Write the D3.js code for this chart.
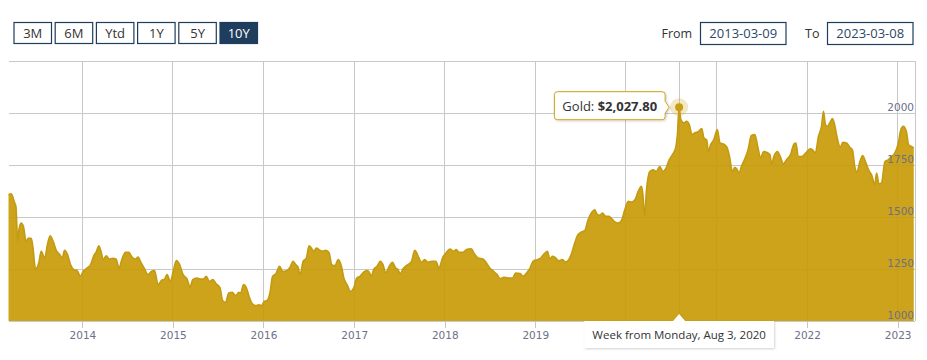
<!DOCTYPE html>
<html>
<head>
<meta charset="utf-8">
<script src="https://cdn.jsdelivr.net/npm/d3@7"></script>
<style>
body { margin: 0; background: #fff; }
svg { display: block; font-family: "Open Sans", sans-serif; }
.axis text { font-family: "DejaVu Sans", sans-serif; font-size: 10.5px; fill: #6c7088; }
.axis .domain { display: none; }
</style>
</head>
<body>
<svg id="chart" width="927" height="360"></svg>
<script>
// weekly gold price
var dates = [
"2013-03-09","2013-03-20","2013-04-03","2013-04-08","2013-04-15","2013-04-20","2013-04-29","2013-05-08","2013-05-19","2013-05-29","2013-06-09","2013-06-15","2013-06-26","2013-07-09","2013-07-19","2013-08-02","2013-08-13","2013-08-24","2013-09-05","2013-09-18","2013-10-02","2013-10-12","2013-10-21","2013-11-02","2013-11-14","2013-11-27","2013-12-10","2013-12-24",
"2014-01-04","2014-01-20","2014-02-03","2014-02-16","2014-02-27","2014-03-08","2014-03-17","2014-03-26","2014-04-07","2014-04-20","2014-05-03","2014-05-17","2014-05-28","2014-06-11","2014-06-24","2014-07-07","2014-07-20","2014-08-04","2014-08-13","2014-08-26","2014-09-09","2014-09-22","2014-10-06","2014-10-19","2014-11-02","2014-11-16","2014-11-29","2014-12-08","2014-12-22",
"2015-01-02","2015-01-15","2015-01-28","2015-02-11","2015-02-27","2015-03-11","2015-03-22","2015-04-07","2015-04-21","2015-05-04","2015-05-15","2015-05-28","2015-06-11","2015-06-24","2015-07-10","2015-07-20","2015-08-01","2015-08-14","2015-08-28","2015-09-11","2015-09-24","2015-10-01","2015-10-13","2015-10-23","2015-11-04","2015-11-17","2015-12-01","2015-12-14","2015-12-25",
"2016-01-04","2016-01-16","2016-01-27","2016-02-07","2016-02-20","2016-03-06","2016-03-19","2016-04-05","2016-04-18","2016-04-29","2016-05-10","2016-05-19","2016-05-28","2016-06-09","2016-06-22","2016-07-03","2016-07-12","2016-07-21","2016-08-02","2016-08-12","2016-08-26","2016-09-09","2016-09-22","2016-10-02","2016-10-15","2016-10-28","2016-11-11","2016-11-20","2016-12-03","2016-12-17",
"2017-01-01","2017-01-11","2017-01-24","2017-02-07","2017-02-20","2017-03-01","2017-03-11","2017-03-20","2017-04-03","2017-04-16","2017-04-27","2017-05-08","2017-05-21","2017-06-04","2017-06-17","2017-06-26","2017-07-06","2017-07-16","2017-07-30","2017-08-20","2017-09-02","2017-09-16","2017-09-29","2017-10-12","2017-10-26","2017-11-09","2017-11-26","2017-12-09","2017-12-23",
"2018-01-06","2018-01-22","2018-02-05","2018-02-16","2018-02-28","2018-03-15","2018-03-29","2018-04-09","2018-04-18","2018-05-01","2018-05-15","2018-06-04","2018-06-18","2018-07-01","2018-07-14","2018-07-31","2018-08-13","2018-08-27","2018-09-14","2018-10-01","2018-10-14","2018-11-01","2018-11-13","2018-11-27","2018-12-10","2018-12-23",
"2019-01-09","2019-01-23","2019-02-03","2019-02-19","2019-02-28","2019-03-12","2019-03-24","2019-04-06","2019-04-20","2019-05-03","2019-05-16","2019-05-26","2019-06-09","2019-06-22","2019-07-06","2019-07-19","2019-08-02","2019-08-15","2019-08-29","2019-09-07","2019-09-18","2019-09-29","2019-10-12","2019-10-25","2019-11-05","2019-11-18","2019-12-01","2019-12-14","2019-12-28",
"2020-01-11","2020-01-24","2020-02-07","2020-02-20","2020-03-04","2020-03-10","2020-03-17","2020-03-24","2020-04-07","2020-04-20","2020-05-03","2020-05-17","2020-05-30","2020-06-10","2020-06-24","2020-07-07","2020-07-20","2020-07-27","2020-08-03","2020-08-10","2020-08-22","2020-09-02","2020-09-13","2020-09-24","2020-10-06","2020-10-19","2020-11-02","2020-11-11","2020-11-22","2020-11-29","2020-12-08","2020-12-21",
"2021-01-04","2021-01-15","2021-01-28","2021-02-12","2021-02-22","2021-03-06","2021-03-15","2021-03-24","2021-04-02","2021-04-11","2021-04-25","2021-05-08","2021-05-21","2021-06-04","2021-06-17","2021-06-27","2021-07-10","2021-07-23","2021-08-04","2021-08-11","2021-08-20","2021-09-03","2021-09-16","2021-09-27","2021-10-10","2021-10-26","2021-11-09","2021-11-17","2021-11-26","2021-12-10","2021-12-27",
"2022-01-13","2022-01-24","2022-02-03","2022-02-16","2022-02-28","2022-03-08","2022-03-16","2022-03-25","2022-04-02","2022-04-13","2022-04-22","2022-05-01","2022-05-15","2022-05-25","2022-06-09","2022-06-22","2022-07-03","2022-07-12","2022-07-21","2022-08-02","2022-08-13","2022-08-26","2022-09-09","2022-09-18","2022-10-01","2022-10-08","2022-10-18","2022-10-28","2022-11-11","2022-11-24","2022-12-08","2022-12-21",
"2023-01-04","2023-01-14","2023-01-24","2023-02-05","2023-02-14","2023-02-24","2023-03-07"
];
var prices = [
1607,1612,1567,1550,1383,1439,1471,1455,1383,1399,1397,1359,1250,1279,1335,1303,1367,1410,1383,1338,1319,1303,1340,1319,1271,1247,1243,1215,
1238,1255,1271,1314,1335,1362,1335,1295,1314,1298,1301,1298,1255,1303,1330,1330,1308,1298,1308,1279,1250,1223,1238,1243,1175,1195,1202,1223,1190,
1238,1291,1271,1223,1202,1163,1199,1207,1202,1202,1215,1190,1199,1179,1159,1099,1089,1135,1138,1122,1138,1135,1175,1163,1118,1083,1074,1078,1074,
1094,1099,1135,1215,1227,1263,1238,1243,1260,1287,1271,1260,1223,1287,1303,1362,1351,1335,1351,1343,1335,1340,1327,1271,1266,1295,1260,1207,1175,1142,
1166,1207,1215,1234,1243,1238,1215,1247,1263,1287,1271,1231,1260,1282,1255,1247,1227,1250,1266,1287,1340,1311,1282,1295,1282,1287,1287,1255,1303,
1327,1346,1335,1343,1330,1330,1343,1346,1347,1322,1303,1298,1279,1255,1242,1223,1204,1210,1207,1207,1231,1228,1215,1231,1252,1287,
1295,1303,1319,1335,1300,1311,1303,1290,1295,1284,1295,1319,1375,1415,1428,1434,1487,1519,1535,1514,1508,1519,1503,1503,1492,1476,1471,1482,1535,
1575,1572,1583,1623,1647,1607,1503,1623,1719,1727,1719,1743,1719,1732,1775,1800,1832,1896,2027.8,1968,1952,1960,1944,1896,1905,1910,1925,1880,1870,1815,1848,1872,
1920,1856,1851,1835,1791,1716,1739,1730,1711,1743,1780,1824,1892,1896,1832,1784,1815,1810,1800,1755,1791,1815,1787,1755,1775,1800,1851,1856,1791,1791,1808,
1828,1822,1808,1888,1936,2008,1944,1936,1952,1973,1944,1888,1835,1859,1856,1835,1822,1743,1716,1767,1796,1760,1719,1703,1655,1711,1659,1664,1767,1775,1791,1808,
1856,1920,1936,1912,1848,1840,1832
];
var yTicks = [1000, 1250, 1500, 1750, 2000];
var yMax = 2250;
var rangeButtons = ["3M", "6M", "Ytd", "1Y", "5Y", "10Y"];
var activeRange = "10Y";
var fromDate = "2013-03-09";
var toDate = "2023-03-08";
var seriesName = "Gold";
var hoverDate = "2020-08-03";

var parse = d3.timeParse("%Y-%m-%d");
var data = dates.map(function(d, i) { return { date: parse(d), price: prices[i] }; });
var hover = data.find(function(d) { return d.date.getTime() === parse(hoverDate).getTime(); });

var svg = d3.select("#chart");
var plotTop = 61, plotBottom = 321, plotLeft = 9, plotRight = 915;
var gold = "#cca31a";

var x = d3.scaleTime().domain([parse(fromDate), parse(toDate)]).range([8.5, 914]);
var y = d3.scaleLinear().domain([1000, yMax]).range([plotBottom, plotTop]);

// grid
var grid = svg.append("g").attr("shape-rendering", "crispEdges");
grid.selectAll(".hg").data(yTicks.concat([yMax])).enter().append("line")
	.attr("x1", plotLeft).attr("x2", plotRight)
	.attr("y1", function(d) { return y(d); }).attr("y2", function(d) { return y(d); })
	.attr("stroke", "#c8c8c8");
grid.selectAll(".vg").data(x.ticks(d3.timeYear)).enter().append("line")
	.attr("x1", function(d) { return x(d); }).attr("x2", function(d) { return x(d); })
	.attr("y1", plotTop).attr("y2", plotBottom)
	.attr("stroke", "#c8c8c8");
grid.append("line")
	.attr("x1", plotRight).attr("x2", plotRight).attr("y1", plotTop).attr("y2", plotBottom)
	.attr("stroke", "#c8c8c8");
// crosshair
grid.append("line")
	.attr("x1", x(hover.date)).attr("x2", x(hover.date)).attr("y1", plotTop).attr("y2", plotBottom)
	.attr("stroke", "#c8c8c8");

// area + line
var area = d3.area().curve(d3.curveMonotoneX)
	.x(function(d) { return x(d.date); })
	.y0(plotBottom)
	.y1(function(d) { return y(d.price); });
var line = d3.line().curve(d3.curveMonotoneX)
	.x(function(d) { return x(d.date); })
	.y(function(d) { return y(d.price); });

svg.append("path").datum(data)
	.attr("d", area)
	.attr("fill", "rgb(198,153,2)")
	.attr("fill-opacity", 0.9);
svg.append("path").datum(data)
	.attr("d", line)
	.attr("fill", "none")
	.attr("stroke", "#c39a10")
	.attr("stroke-width", 1.6)
	.attr("stroke-linejoin", "round");

// x axis
var xAxis = svg.append("g").attr("class", "axis")
	.attr("transform", "translate(0," + plotBottom + ")")
	.call(d3.axisBottom(x).ticks(d3.timeYear).tickFormat(d3.timeFormat("%Y")).tickSize(7).tickPadding(3.5));
xAxis.selectAll(".tick line").attr("stroke", "#c8c8c8").attr("shape-rendering", "crispEdges");

// y axis labels, inside plot on the right
var yAxis = svg.append("g").attr("class", "axis")
	.attr("transform", "translate(" + 914 + ",0)")
	.call(d3.axisLeft(y).tickValues(yTicks).tickFormat(d3.format("d")).tickSize(0).tickPadding(0));
yAxis.selectAll(".tick text").attr("dy", "-0.28em");

// hover marker
var hx = x(hover.date), hy = y(hover.price);
svg.append("circle").attr("cx", hx).attr("cy", hy).attr("r", 9).attr("fill", gold).attr("fill-opacity", 0.25);
svg.append("circle").attr("cx", hx).attr("cy", hy).attr("r", 4).attr("fill", "#c99e14");

// shadow
var defs = svg.append("defs");
var f = defs.append("filter").attr("id", "shadow").attr("x", "-20%").attr("y", "-30%").attr("width", "140%").attr("height", "170%");
f.append("feDropShadow").attr("dx", 1).attr("dy", 1).attr("stdDeviation", 1.2).attr("flood-color", "#000").attr("flood-opacity", 0.18);

// tooltip with value
var tip = svg.append("g");
var tipText = tip.append("text").attr("font-size", 13).attr("fill", "#333");
tipText.append("tspan").text(seriesName + ": ");
tipText.append("tspan").attr("font-weight", "bold").text(d3.format("$,.2f")(hover.price));
var tw = tipText.node().getComputedTextLength();
var bx1 = hx - 14, bx0 = bx1 - tw - 16, by0 = hy - 15.5, by1 = hy + 12.5, r = 3;
tip.insert("path", "text")
	.attr("d", "M" + (bx0 + r) + "," + by0 + "H" + (bx1 - r) + "Q" + bx1 + "," + by0 + " " + bx1 + "," + (by0 + r) +
		"V" + (hy - 6) + "L" + (hx - 10) + "," + hy + "L" + bx1 + "," + (hy + 6) +
		"V" + (by1 - r) + "Q" + bx1 + "," + by1 + " " + (bx1 - r) + "," + by1 +
		"H" + (bx0 + r) + "Q" + bx0 + "," + by1 + " " + bx0 + "," + (by1 - r) +
		"V" + (by0 + r) + "Q" + bx0 + "," + by0 + " " + (bx0 + r) + "," + by0 + "Z")
	.attr("fill", "#fff").attr("stroke", gold).attr("stroke-width", 1)
	.attr("filter", "url(#shadow)");
tipText.attr("x", bx0 + 8).attr("y", hy + 4);

// date label under axis
var lab = svg.append("g");
var labText = lab.append("text").attr("font-size", 11.5).attr("fill", "#333")
	.text(d3.timeFormat("Week from %A, %b %-d, %Y")(hover.date));
var lw = labText.node().getComputedTextLength();
var lx0 = hx - lw / 2 - 8, lx1 = hx + lw / 2 + 8, ly0 = plotBottom, ly1 = plotBottom + 27;
lab.insert("path", "text")
	.attr("d", "M" + lx0 + "," + ly0 + "H" + (hx - 6) + "L" + hx + "," + (ly0 - 7) + "L" + (hx + 6) + "," + ly0 +
		"H" + lx1 + "V" + ly1 + "H" + lx0 + "Z")
	.attr("fill", "#fff").attr("filter", "url(#shadow)");
labText.attr("x", lx0 + 8).attr("y", 339);

// year labels that sit under the date label are covered by it
xAxis.selectAll(".tick text").style("display", function(d) {
	var tx = x(d);
	return (tx > lx0 - 14 && tx < lx1 + 14) ? "none" : null;
});

// range selector buttons
var bScale = d3.scaleBand().domain(rangeButtons).range([14, 257.5]).paddingInner(0.09);
var btn = svg.append("g").selectAll("g").data(rangeButtons).enter().append("g")
	.attr("transform", function(d) { return "translate(" + bScale(d) + ",22.5)"; });
btn.append("rect")
	.attr("width", bScale.bandwidth()).attr("height", 21)
	.attr("fill", function(d) { return d === activeRange ? "#1f3d5c" : "#fff"; })
	.attr("stroke", "#1f3d5c").attr("stroke-width", 1.2);
btn.append("text")
	.attr("x", bScale.bandwidth() / 2).attr("y", 15.3)
	.attr("text-anchor", "middle").attr("font-size", 13)
	.attr("fill", function(d) { return d === activeRange ? "#fff" : "#333"; })
	.text(function(d) { return d; });

// date inputs
var inputs = [{ label: "From", value: fromDate, lx: 661.5, bx: 700.5 }, { label: "To", value: toDate, lx: 805, bx: 827.5 }];
var inp = svg.append("g").selectAll("g").data(inputs).enter().append("g");
inp.append("text").attr("x", function(d) { return d.lx; }).attr("y", 37.7)
	.attr("font-size", 12.5).attr("fill", "#333").text(function(d) { return d.label; });
inp.append("rect").attr("x", function(d) { return d.bx; }).attr("y", 22.5)
	.attr("width", 85.5).attr("height", 22)
	.attr("fill", "#fff").attr("stroke", "#1f3d5c").attr("stroke-width", 1.2);
inp.append("text").attr("x", function(d) { return d.bx + 42.75; }).attr("y", 38)
	.attr("text-anchor", "middle").attr("font-size", 13).attr("fill", "#2c4766")
	.text(function(d) { return d.value; });
</script>
</body>
</html>
